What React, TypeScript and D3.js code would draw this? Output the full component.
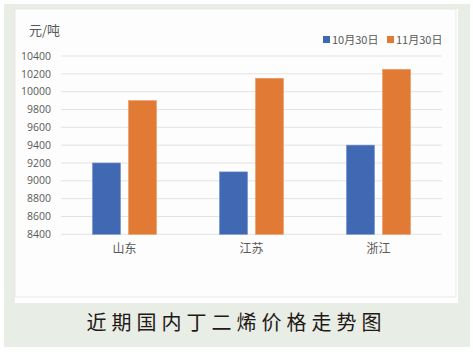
import React from "react";
import * as d3 from "d3";

const categories = ["山东", "江苏", "浙江"];
const seriesNames = ["10月30日", "11月30日"];
const oct30 = [9200, 9100, 9400];
const nov30 = [9900, 10150, 10250];
const yTicks = [8400, 8600, 8800, 9000, 9200, 9400, 9600, 9800, 10000, 10200, 10400];
const colors = ["#4169b3", "#e07a35"];
const unitLabel = "元/吨";
const title = "近期国内丁二烯价格走势图";

export default function App() {
  const W = 473, H = 355;
  const left = 61, right = 442, top = 56, bottom = 234.3;
  const x = d3.scaleBand().domain(categories).range([left, right]).padding(0);
  const y = d3.scaleLinear().domain([8400, 10400]).range([bottom, top]);
  const barW = 28, gap = 8;
  const series = [oct30, nov30];
  const latin = "'Open Sans', 'Noto Sans', sans-serif";
  const cjk = "'Noto Sans CJK SC', sans-serif";
  return (
    <svg width={W} height={H} style={{ position: "absolute", left: 0, top: 0 }}>
      <rect x={0} y={0} width={W} height={H} fill="#ffffff" />
      <rect x={4} y={4} width={466} height={343} fill="#e8ede6" />
      <rect x={15} y={9} width={443} height={294} fill="#ffffff" />
      <rect x={15} y={9} width={441} height={288} fill="#fdfdfd" stroke="#e4e4e4" strokeWidth={0.8} />
      {yTicks.map((t) => (
        <g key={t}>
          <line x1={left} x2={right} y1={y(t)} y2={y(t)} stroke="#e3e3e3" strokeWidth={1} />
          <text x={51} y={y(t)} dy="0.35em" textAnchor="end" fontSize={10.5} fill="#595959" fontFamily={latin}>
            {t}
          </text>
        </g>
      ))}
      <text x={29} y={35} fontSize={13} fill="#595959" fontFamily={cjk}>{unitLabel}</text>
      {categories.map((c, i) => {
        const cx = (x(c) as number) + x.bandwidth() / 2;
        return (
          <g key={c}>
            {series.map((s, k) => {
              const bx = k === 0 ? cx - gap / 2 - barW : cx + gap / 2;
              return (
                <rect key={k} x={bx} y={y(s[i])} width={barW} height={y(8400) - y(s[i])}
                  fill={colors[k]} stroke={k === 0 ? "#6f8fcf" : "#ec9a60"} strokeWidth={0.6} />
              );
            })}
            <text x={cx} y={253} textAnchor="middle" fontSize={12} fill="#595959" fontFamily={cjk}>{c}</text>
          </g>
        );
      })}
      {seriesNames.map((n, k) => {
        const lx = k === 0 ? 323 : 387;
        return (
          <g key={n}>
            <rect x={lx} y={36} width={7} height={7} fill={colors[k]} />
            <text x={lx + 9} y={40} dy="0.35em" fontSize={11} fill="#595959" fontFamily={cjk}>{n}</text>
          </g>
        );
      })}
      <text x={236.5} y={330} textAnchor="middle" fontSize={20} fill="#231815" fontFamily={cjk} letterSpacing={5}>
        {title}
      </text>
    </svg>
  );
}
